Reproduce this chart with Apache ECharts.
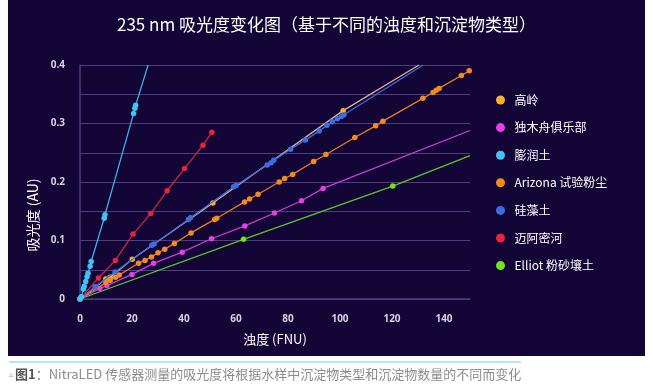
<!DOCTYPE html>
<html>
<head>
<meta charset="utf-8">
<script src="https://cdn.jsdelivr.net/npm/echarts@6/dist/echarts.min.js"></script>
<style>
html,body{margin:0;padding:0;background:#ffffff;}
#chart{width:653px;height:387px;}
</style>
</head>
<body>
<div id="chart"></div>
<script>
// ---- data ----
var seriesNames = ['高岭', '独木舟俱乐部', '膨润土', 'Arizona 试验粉尘', '硅藻土', '迈阿密河', 'Elliot 粉砂壤土'];

var kaolinPts = [[0,0],[9.9,0.034],[11.6,0.037],[20.1,0.068],[51.1,0.164],[101.2,0.322]];
var kaolinEnd = [130.4,0.4];

var canoePts = [[0,0],[7.6,0.018],[10.3,0.023],[20,0.042],[28.3,0.061],[39.3,0.08],[50.6,0.103],[63.4,0.125],[74.8,0.147],[85.2,0.168],[93.5,0.189]];
var canoeEnd = [150,0.288];

var bentonitePts = [[0,0],[0.5,0.004],[1.3,0.017],[1.6,0.022],[2.2,0.03],[2.7,0.038],[3.1,0.044],[3.9,0.056],[4.3,0.064],[9.3,0.138],[9.6,0.144],[20.6,0.317],[21.1,0.326],[21.4,0.331]];
var bentoniteEnd = [26.2,0.4];

var arizonaPts = [[0,0],[10,0.028],[11.6,0.032],[13.7,0.037],[15.1,0.041],[22.5,0.061],[25,0.066],[27.5,0.072],[30,0.079],[32.6,0.085],[36.3,0.095],[42.7,0.113],[51.8,0.136],[52.6,0.138],[63.3,0.166],[65.2,0.171],[68.5,0.179],[76.6,0.2],[78.7,0.206],[81.8,0.213],[89.9,0.235],[94.6,0.247],[105.7,0.276],[113.7,0.296],[116.5,0.304],[131.9,0.343],[135.8,0.353],[137,0.357],[138.1,0.36],[146.7,0.382],[149.7,0.39]];
var arizonaEnd = null;

var diatomPts = [[0,0],[5.8,0.021],[13.5,0.046],[27.6,0.092],[28.5,0.094],[41.7,0.136],[42.5,0.139],[59.1,0.192],[60,0.194],[72,0.229],[73.5,0.233],[74.5,0.237],[81,0.256],[86.7,0.272],[92,0.287],[95,0.297],[97,0.303],[99,0.308],[100.5,0.312],[101.5,0.315]];
var diatomEnd = [132,0.4];

var miamiPts = [[0,0],[7.1,0.036],[13.6,0.066],[20.4,0.111],[27.2,0.146],[33.5,0.185],[40.2,0.223],[47.3,0.263],[50.7,0.285]];
var miamiEnd = null;

var elliotPts = [[0,0],[62.9,0.102],[120.3,0.193]];
var elliotEnd = [150,0.245];

var xTickLabels = ['0','20','40','60','80','100','120','140'];
var yTickLabels = ['0','0.1','0.2','0.3','0.4'];

var titleText = '235 nm 吸光度变化图（基于不同的浊度和沉淀物类型）';
var xName = '浊度 (FNU)';
var yName = '吸光度 (AU)';
var captionText = '：NitraLED 传感器测量的吸光度将根据水样中沉淀物类型和沉淀物数量的不同而变化';

// ---- styles ----
var dotColors  = ['#f6b22a','#e63fe6','#3fc5f2','#f38b1f','#3b6de3','#e8223f','#6fe41f'];
var lineColors = ['#dcb48c','#cf3be0','#45ace0','#e57d27','#3b6de3','#cf2340','#5cc52b'];
var allPts  = [kaolinPts, canoePts, bentonitePts, arizonaPts, diatomPts, miamiPts, elliotPts];
var allEnds = [kaolinEnd, canoeEnd, bentoniteEnd, arizonaEnd, diatomEnd, miamiEnd, elliotEnd];
var zs = [3,2,6,3,4,3,2];

function buildData(pts, end){
  var d = pts.map(function(p){ return p.slice(); });
  if (end) d.push({value: end.slice(), symbol: 'none'});
  return d;
}

var series = seriesNames.map(function(n,i){
  return {
    name: n, type: 'line', z: zs[i],
    data: buildData(allPts[i], allEnds[i]),
    symbol: 'circle', symbolSize: 5.5, showSymbol: true,
    itemStyle: {color: dotColors[i]},
    lineStyle: {color: lineColors[i], width: 1.3},
    emphasis: {disabled: true},
    animation: false,
    clip: true
  };
});

var chart = echarts.init(document.getElementById('chart'), null, {renderer: 'canvas'});
chart.setOption({
  backgroundColor: '#ffffff',
  animation: false,
  graphic: [
    {type: 'rect', z: -10, silent: true, shape: {x: 8, y: 0, width: 637, height: 356}, style: {fill: '#140537'}},
    {type: 'rect', z: -10, silent: true, shape: {x: 9, y: 361, width: 512, height: 2}, style: {fill: '#aee9f5'}},
    {type: 'text', silent: true, left: 9, top: 368, style: {
      text: '{a|▵}{b|图1}{c|' + captionText + '}',
      rich: {
        a: {fontSize: 8, fill: '#9a9a9a', fontFamily: 'DejaVu Sans', padding:[0,2,0,0]},
        b: {fontSize: 13, fill: '#555555', fontWeight: 'bold', fontFamily: 'Noto Sans CJK SC'},
        c: {fontSize: 13, fill: '#8c8c8c', fontFamily: 'Noto Sans CJK SC'}
      }
    }}
  ],
  title: {
    text: titleText, left: 'center', top: 11,
    textStyle: {color: '#ffffff', fontSize: 17, fontWeight: 'normal', fontFamily: 'Noto Sans CJK SC'}
  },
  legend: {
    orient: 'vertical', left: 491, top: 88,
    icon: 'circle', itemWidth: 18, itemHeight: 9, itemGap: 13.6,
    data: seriesNames,
    textStyle: {color: '#ffffff', fontSize: 12, lineHeight: 14, fontFamily: 'Noto Sans CJK SC'},
    selectedMode: false
  },
  grid: {left: 80, right: 183, top: 65, bottom: 88, containLabel: false},
  xAxis: {
    type: 'value', min: 0, max: 150, interval: 20,
    name: xName, nameLocation: 'middle', nameGap: 34,
    nameTextStyle: {color: '#ffffff', fontSize: 13, fontFamily: 'Noto Sans CJK SC'},
    axisLine: {show: true, lineStyle: {color: '#4e3d80', width: 1.5}},
    axisTick: {show: false},
    splitLine: {show: false},
    axisLabel: {
      color: '#d6d3e6', fontSize: 10, fontWeight: 'bold', fontFamily: 'Open Sans', margin: 15,
      showMaxLabel: false,
      formatter: function(v){ var i = Math.round(v/20); return (Math.abs(v - i*20) < 1e-6 && i < xTickLabels.length) ? xTickLabels[i] : ''; }
    }
  },
  yAxis: {
    type: 'value', min: 0, max: 0.4, interval: 0.05,
    name: yName, nameLocation: 'middle', nameGap: 36,
    nameTextStyle: {color: '#ffffff', fontSize: 14, fontFamily: 'Noto Sans CJK SC', padding: [0, 66, 0, 0]},
    axisLine: {show: true, lineStyle: {color: '#4e3d80', width: 1.5}},
    axisTick: {show: false},
    splitLine: {show: true, lineStyle: {color: '#4e3d80', width: 1.2}},
    axisLabel: {
      color: '#d6d3e6', fontSize: 10, fontWeight: 'bold', fontFamily: 'Open Sans', margin: 15,
      formatter: function(v){ var i = Math.round(v/0.1); return (Math.abs(v - i*0.1) < 1e-6) ? yTickLabels[i] : ''; }
    }
  },
  series: series
});
</script>
</body>
</html>
